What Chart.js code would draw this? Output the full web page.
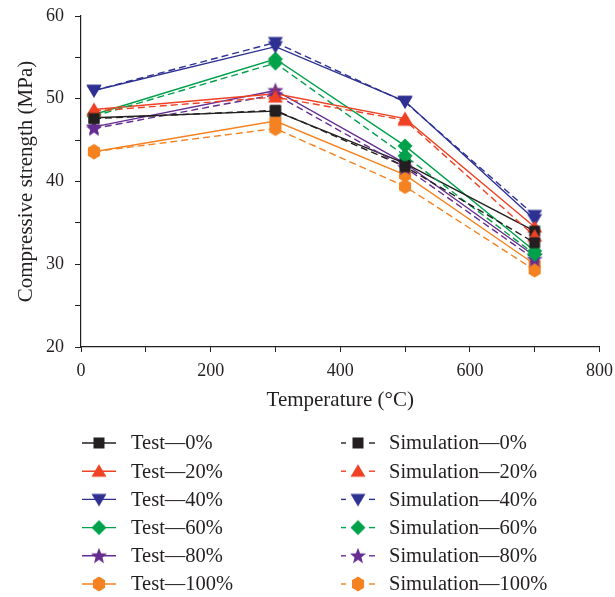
<!DOCTYPE html>
<html>
<head>
<meta charset="utf-8">
<script src="https://cdn.jsdelivr.net/npm/chart.js@4"></script>
<style>
  html, body { margin: 0; padding: 0; background: #fff; }
  #wrap { width: 615px; height: 597px; position: relative; }
</style>
</head>
<body>
<div id="wrap"><canvas id="chart" width="615" height="597"></canvas></div>
<script>
// Compressive strength vs temperature, test vs simulation
const temperatures = [20, 300, 500, 700];

const test0 = [47.7, 48.5, 42.2, 34.0];
const test20 = [48.7, 50.6, 47.6, 34.5];
const test40 = [51.0, 56.3, 49.7, 35.4];
const test60 = [48.1, 54.8, 44.3, 31.6];
const test80 = [46.6, 51.0, 42.2, 31.0];
const test100 = [43.6, 47.3, 40.8, 30.0];

const sim0 = [47.6, 48.6, 41.8, 32.6];
const sim20 = [48.5, 50.2, 47.4, 33.4];
const sim40 = [51.0, 56.8, 49.6, 35.9];
const sim60 = [47.9, 54.3, 43.1, 31.2];
const sim80 = [46.4, 50.5, 41.7, 30.6];
const sim100 = [43.6, 46.4, 39.4, 29.3];

const groupLabels = ["0%", "20%", "40%", "60%", "80%", "100%"];
const groupColors = ["#231f20", "#ef4123", "#2e3192", "#00a14b", "#662d91", "#f58220"];
const groupShapes = ["square", "triangle", "down", "diamond", "star", "hexagon"];
const testSeries = [test0, test20, test40, test60, test80, test100];
const simSeries = [sim0, sim20, sim40, sim60, sim80, sim100];

const FONT = "'Liberation Serif', 'DejaVu Serif', serif";

function makeMarker(shape, color) {
  const s = 18;
  const c = document.createElement("canvas");
  c.width = s; c.height = s;
  const g = c.getContext("2d");
  const m = s / 2;
  g.fillStyle = color;
  g.beginPath();
  if (shape === "square") {
    g.rect(m - 5.5, m - 5.5, 11, 11);
  } else if (shape === "triangle") {
    g.moveTo(m, m - 7); g.lineTo(m + 7.5, m + 5.5); g.lineTo(m - 7.5, m + 5.5);
  } else if (shape === "down") {
    g.moveTo(m, m + 7); g.lineTo(m + 7.5, m - 5.5); g.lineTo(m - 7.5, m - 5.5);
  } else if (shape === "diamond") {
    g.moveTo(m, m - 7.5); g.lineTo(m + 7.5, m); g.lineTo(m, m + 7.5); g.lineTo(m - 7.5, m);
  } else if (shape === "star") {
    for (let i = 0; i < 10; i++) {
      const r = i % 2 === 0 ? 8.5 : 3.6;
      const a = -Math.PI / 2 + i * Math.PI / 5;
      const x = m + r * Math.cos(a), y = m + 0.5 + r * Math.sin(a);
      if (i === 0) g.moveTo(x, y); else g.lineTo(x, y);
    }
  } else if (shape === "hexagon") {
    for (let i = 0; i < 6; i++) {
      const a = -Math.PI / 2 + i * Math.PI / 3;
      const x = m + 7 * Math.cos(a), y = m + 7.5 * Math.sin(a);
      if (i === 0) g.moveTo(x, y); else g.lineTo(x, y);
    }
  }
  g.closePath();
  g.fill();
  return c;
}

const markers = groupShapes.map((sh, i) => makeMarker(sh, groupColors[i]));

function toPoints(values) {
  return values.map((v, i) => ({ x: temperatures[i], y: v }));
}

const datasets = [];
groupLabels.forEach((lab, i) => {
  datasets.push({
    label: "Simulation\u2014" + lab,
    data: toPoints(simSeries[i]),
    borderColor: groupColors[i],
    backgroundColor: groupColors[i],
    borderWidth: 1.4,
    borderDash: [7, 4],
    pointStyle: markers[i],
    tension: 0,
  });
});
groupLabels.forEach((lab, i) => {
  datasets.push({
    label: "Test\u2014" + lab,
    data: toPoints(testSeries[i]),
    borderColor: groupColors[i],
    backgroundColor: groupColors[i],
    borderWidth: 1.4,
    pointStyle: markers[i],
    tension: 0,
  });
});

// two-column legend under the axes
const legendPlugin = {
  id: "twoColLegend",
  afterDraw(chart) {
    const ctx = chart.ctx;
    ctx.save();
    ctx.font = "20.5px " + FONT;
    ctx.fillStyle = "#231f20";
    ctx.textBaseline = "middle";
    groupLabels.forEach((lab, i) => {
      const y = 443 + i * 28.2;
      // test column
      ctx.strokeStyle = groupColors[i];
      ctx.lineWidth = 1.4;
      ctx.setLineDash([]);
      ctx.beginPath(); ctx.moveTo(82, y); ctx.lineTo(116, y); ctx.stroke();
      ctx.drawImage(markers[i], 99 - 9, y - 9);
      ctx.fillText("Test\u2014" + lab, 131, y + 1);
      // simulation column
      ctx.beginPath(); ctx.moveTo(341, y); ctx.lineTo(346, y); ctx.stroke();
      ctx.beginPath(); ctx.moveTo(369, y); ctx.lineTo(375, y); ctx.stroke();
      ctx.drawImage(markers[i], 358 - 9, y - 9);
      ctx.fillText("Simulation\u2014" + lab, 389, y + 1);
    });
    ctx.restore();
  },
};

new Chart(document.getElementById("chart"), {
  type: "line",
  data: { datasets },
  options: {
    responsive: false,
    animation: false,
    layout: { padding: { top: 16, right: 15.5, bottom: 180, left: 10 } },
    plugins: { legend: { display: false }, tooltip: { enabled: false } },
    scales: {
      x: {
        type: "linear",
        min: 0,
        max: 800,
        afterFit: (s) => { s.height = 70; s.paddingLeft = 0; s.paddingRight = 0; },
        border: { display: true, color: "#231f20", width: 1.2 },
        grid: { drawOnChartArea: false, color: "#231f20", tickLength: 5 },
        ticks: {
          stepSize: 100,
          color: "#231f20",
          font: { family: FONT, size: 18 },
          padding: 8,
          maxRotation: 0,
          callback: (v) => (v % 200 === 0 ? v : ""),
        },
        title: {
          display: true,
          text: "Temperature (\u00b0C)",
          color: "#231f20",
          font: { family: FONT, size: 21 },
          padding: { top: 4 },
        },
      },
      y: {
        min: 20,
        max: 60,
        afterFit: (s) => { s.width = 71; s.paddingTop = 0; s.paddingBottom = 0; },
        border: { display: true, color: "#231f20", width: 1.2 },
        grid: { drawOnChartArea: false, color: "#231f20", tickLength: 6 },
        ticks: {
          stepSize: 5,
          color: "#231f20",
          font: { family: FONT, size: 18 },
          padding: 11,
          callback: (v) => (v % 10 === 0 ? v : ""),
        },
        title: {
          display: true,
          text: "Compressive strength (MPa)",
          color: "#231f20",
          font: { family: FONT, size: 21 },
          padding: { bottom: 4 },
        },
      },
    },
  },
  plugins: [legendPlugin],
});
</script>
</body>
</html>
